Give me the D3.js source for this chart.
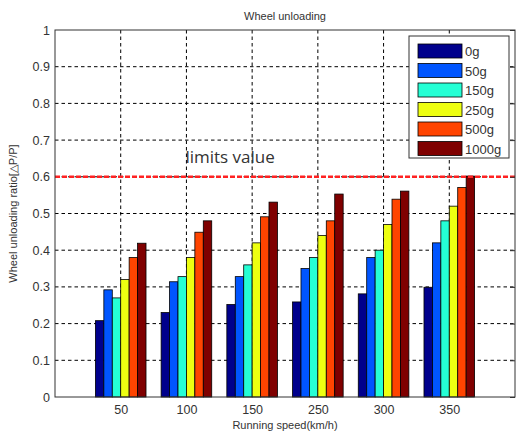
<!DOCTYPE html>
<html>
<head>
<meta charset="utf-8">
<script src="https://cdn.jsdelivr.net/npm/d3@7"></script>
<style>
body { margin: 0; background: #fff; }
svg text { font-family: "Liberation Sans", Arial, sans-serif; }
.grid line { stroke: #000; stroke-dasharray: 3.5,3; stroke-width: 1; }
</style>
</head>
<body>
<svg id="chart" width="520" height="434"></svg>
<script>
// chart data
var speeds = ["50", "100", "150", "250", "300", "350"];
var loads = ["0g", "50g", "150g", "250g", "500g", "1000g"];
var colors = ["#00008c", "#0055ff", "#25ffd5", "#eeff11", "#ff4400", "#7f0000"];
var s0 = [0.208, 0.230, 0.252, 0.259, 0.281, 0.299];
var s50 = [0.292, 0.314, 0.328, 0.350, 0.380, 0.420];
var s150 = [0.270, 0.328, 0.360, 0.380, 0.400, 0.480];
var s250 = [0.320, 0.380, 0.420, 0.440, 0.470, 0.520];
var s500 = [0.380, 0.449, 0.491, 0.480, 0.539, 0.571];
var s1000 = [0.419, 0.480, 0.531, 0.553, 0.561, 0.602];
var series = [s0, s50, s150, s250, s500, s1000];
var yTicks = [0, 0.1, 0.2, 0.3, 0.4, 0.5, 0.6, 0.7, 0.8, 0.9, 1];
var limit = 0.6;

var plotL = 55, plotR = 515, plotT = 30, plotB = 397;
var svg = d3.select("#chart");

var x = d3.scaleLinear().domain([0, 7]).range([plotL, plotR]);
var y = d3.scaleLinear().domain([0, 1]).range([plotB, plotT]);

// grid
var grid = svg.append("g").attr("class", "grid");
grid.selectAll(".gy").data(yTicks.slice(1, 10)).enter().append("line")
	.attr("x1", plotL).attr("x2", plotR)
	.attr("y1", d => y(d)).attr("y2", d => y(d));
grid.selectAll(".gx").data(speeds).enter().append("line")
	.attr("x1", (d, i) => x(i + 1)).attr("x2", (d, i) => x(i + 1))
	.attr("y1", plotT).attr("y2", plotB);

// bars
var groupW = 0.77, barW = groupW / loads.length;
series.forEach(function(vals, k) {
	svg.append("g").selectAll("rect").data(vals).enter().append("rect")
		.attr("x", (d, i) => x(i + 1 - groupW / 2 + k * barW))
		.attr("width", x(barW) - x(0))
		.attr("y", d => y(d))
		.attr("height", d => y(0) - y(d))
		.attr("fill", colors[k])
		.attr("stroke", "#000")
		.attr("stroke-width", 0.8);
});

// limit line
svg.append("line")
	.attr("x1", plotL).attr("x2", plotR)
	.attr("y1", y(limit)).attr("y2", y(limit))
	.attr("stroke", "#ff2222").attr("stroke-width", 2.5)
	.attr("stroke-dasharray", "5,2");
svg.append("text")
	.attr("x", x(2) - 1).attr("y", y(limit) - 14)
	.attr("font-size", 17).attr("fill", "#333")
	.style("font-family", "'Open Sans', sans-serif")
	.text("limits value");

// axes box
svg.append("rect")
	.attr("x", plotL).attr("y", plotT)
	.attr("width", plotR - plotL).attr("height", plotB - plotT)
	.attr("fill", "none").attr("stroke", "#333").attr("stroke-width", 1);

// small inward ticks on right and top edges
var yRight = d3.axisLeft(y).tickValues(yTicks).tickSize(5).tickFormat("");
svg.append("g").attr("transform", "translate(" + plotR + ",0)").call(yRight)
	.call(g => g.select(".domain").remove())
	.selectAll("line").attr("stroke", "#333");

var yAxis = d3.axisLeft(y).tickValues(yTicks).tickFormat(d3.format("~g")).tickSize(0).tickPadding(5);
svg.append("g").attr("transform", "translate(" + plotL + ",0)").call(yAxis)
	.call(g => g.select(".domain").remove())
	.selectAll("text").attr("font-size", 12.5).attr("fill", "#333");

var xAxis = d3.axisBottom(x).tickValues([1, 2, 3, 4, 5, 6]).tickFormat((d) => speeds[d - 1]).tickSize(0).tickPadding(8);
svg.append("g").attr("transform", "translate(0," + plotB + ")").call(xAxis)
	.call(g => g.select(".domain").remove())
	.selectAll("text").attr("font-size", 12.5).attr("fill", "#333");

// titles
svg.append("text").attr("x", (plotL + plotR) / 2).attr("y", 20)
	.attr("text-anchor", "middle").attr("font-size", 11).attr("fill", "#333")
	.text("Wheel unloading");
svg.append("text").attr("x", (plotL + plotR) / 2).attr("y", 429)
	.attr("text-anchor", "middle").attr("font-size", 11).attr("fill", "#333")
	.text("Running speed(km/h)");
svg.append("text")
	.attr("transform", "translate(17," + (plotT + plotB) / 2 + ") rotate(-90)")
	.attr("text-anchor", "middle").attr("font-size", 11).attr("fill", "#333")
	.text("Wheel unloading ratio[\u25B3P/P]");

// legend
var lg = svg.append("g").attr("transform", "translate(409,36)");
lg.append("rect").attr("width", 100).attr("height", 122)
	.attr("fill", "#fff").attr("stroke", "#333");
var item = lg.selectAll(".item").data(loads).enter().append("g")
	.attr("transform", (d, i) => "translate(0," + (8 + i * 19.5) + ")");
item.append("rect")
	.attr("x", 9).attr("width", 44).attr("height", 14)
	.attr("fill", (d, i) => colors[i])
	.attr("stroke", "#000").attr("stroke-width", 0.8);
item.append("text")
	.attr("x", 56).attr("y", 12)
	.attr("font-size", 13).attr("fill", "#333")
	.text(d => d);
</script>
</body>
</html>
